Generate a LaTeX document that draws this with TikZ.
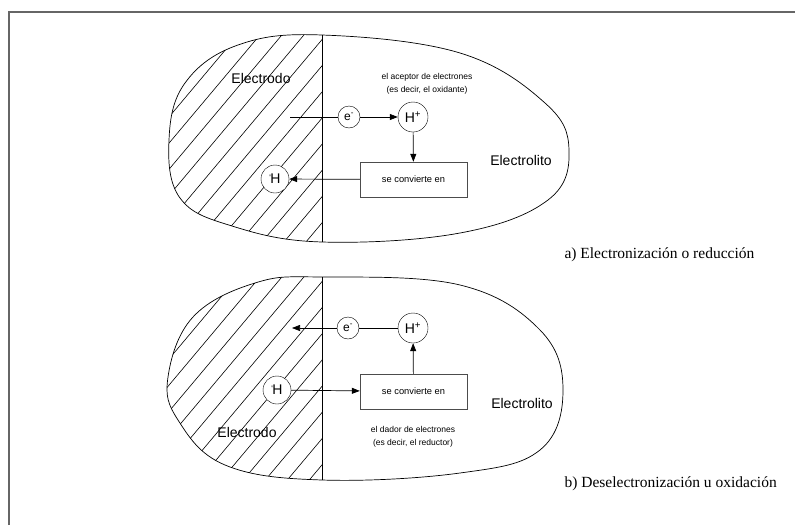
\documentclass[tikz,border=0pt]{standalone}
\usepackage{fontspec}
\setmainfont{Liberation Serif}
\setsansfont{Liberation Sans}
\usetikzlibrary{arrows.meta}

\tikzset{
  part/.style={circle, draw, inner sep=0pt, font=\sffamily\fontsize{14}{14}\selectfont},
  conv/.style={draw=black!70, minimum width=107pt, minimum height=35pt, inner sep=0pt,
    font=\sffamily\fontsize{9.3}{10}\selectfont},
  lbl/.style={font=\sffamily\fontsize{14}{14}\selectfont},
  note/.style={align=center, font=\sffamily\fontsize{8.5}{13}\selectfont},
  figcap/.style={anchor=west, font=\fontsize{15.5}{16}\selectfont},
  flow/.style={line width=0.7pt, -{Triangle[length=8pt,width=6pt]}},
  wire/.style={line width=0.7pt}
}
\newcommand\tick{\raisebox{0.45ex}{\fontsize{8}{8}\selectfont\textquotesingle}\kern-0.5pt}

\def\blobA{plot[smooth cycle, tension=0.65] coordinates {(169,140) (185,83) (238,45) (322,35)
  (460,53) (545,103) (569,150) (548,200) (460,233) (322,242) (232,226) (180,198)}}
\def\blobB{plot[smooth cycle, tension=0.65] coordinates {(168,377) (193,317) (255,283) (322,277)
  (460,285) (540,330) (563,390) (540,450) (460,473) (322,480) (225,465) (178,420)}}

\begin{document}
\begin{tikzpicture}[x=1pt, y=-1pt]
\useasboundingbox (0,0) rectangle (795,525);
\draw[black!60, line width=1.5pt] (9,525) -- (9,12) -- (795,12);

% a) electronizacion
\begin{scope}
\clip \blobA;
\clip (0,0) rectangle (322,525);
\foreach \x in {-13,9,...,339} \draw[line width=0.6pt] (\x,255) -- ++(200,-238);
\end{scope}
\draw[line width=0.7pt] \blobA;
\draw[line width=0.7pt] (322,35) -- (322,242);

\node[lbl] (elda) at (261,78) {Electrodo};
\node[lbl] (elya) at (521,160) {Electrolito};
\node[note] (acep) at (427,84) {el aceptor de electrones\\(es decir, el oxidante)};

\coordinate (sa) at (290,117);
\node[part, minimum size=22pt, font=\sffamily\fontsize{12}{12}\selectfont, fill=white] (ea) at (349,117) {e\textsuperscript{-}};
\node[part, minimum size=30pt, fill=white] (hpa) at (413,117) {H\textsuperscript{+}};
\node[conv, fill=white] (ca) at (413.5,179.5) {se convierte en};
\node[part, minimum size=28pt, fill=white] (ha) at (275,179) {\tick H};

\draw[wire] (sa) -- (ea);
\draw[flow] (ea) -- (hpa);
\draw[flow] (hpa) -- (ca);
\draw[flow] (ca) -- (ha);

\node[figcap] (capa) at (561,255) {a) Electronización o reducción};

% b) deselectronizacion
\begin{scope}
\clip \blobB;
\clip (0,0) rectangle (322,525);
\foreach \x in {-13,9,...,339} \draw[line width=0.6pt] (\x,497) -- ++(200,-238);
\end{scope}
\draw[line width=0.7pt] \blobB;
\draw[line width=0.7pt] (322,277) -- (322,480);

\node[lbl] (eldb) at (247,432) {Electrodo};
\node[lbl] (elyb) at (522,403) {Electrolito};
\node[note] (dador) at (413,437) {el dador de electrones\\(es decir, el reductor)};

\coordinate (sb) at (292,328);
\node[part, minimum size=22pt, font=\sffamily\fontsize{12}{12}\selectfont, fill=white] (eb) at (348,328) {e\textsuperscript{-}};
\node[part, minimum size=30pt, fill=white] (hpb) at (413,328) {H\textsuperscript{+}};
\node[conv, fill=white] (cb) at (413.5,391.5) {se convierte en};
\node[part, minimum size=28pt, fill=white] (hb) at (277,390) {\tick H};

\draw[wire] (hpb) -- (eb);
\draw[flow] (eb) -- (sb);
\draw[flow] (hb) -- (cb);
\draw[flow] (cb) -- (hpb);

\node[figcap] (capb) at (561,484) {b) Deselectronización u oxidación};
\end{tikzpicture}
\end{document}
